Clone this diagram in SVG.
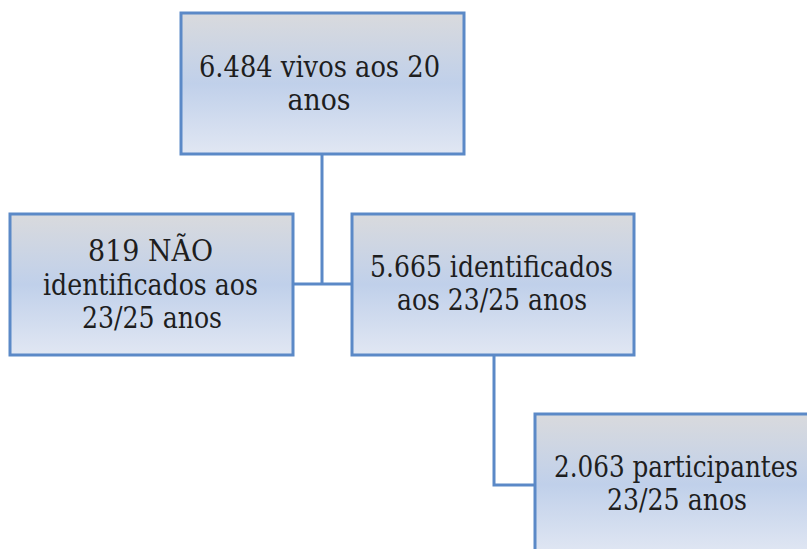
<svg xmlns="http://www.w3.org/2000/svg" width="807" height="549" viewBox="0 0 807 549">
<defs>
<linearGradient id="g" x1="0" y1="0" x2="0" y2="1">
<stop offset="0" stop-color="#d9dadd"/>
<stop offset="0.5" stop-color="#c0d0ea"/>
<stop offset="1" stop-color="#e1e7f3"/>
</linearGradient>
</defs>
<style>
.box{fill:url(#g);stroke:#5b89c7;stroke-width:3}
.lbl{font-size:29px;fill:#1e1e1e;text-anchor:middle}
.conn{fill:none;stroke:#5b89c7;stroke-width:3}
</style>
<rect width="807" height="549" fill="#ffffff"/>
<g id="connectors">
<path class="conn" d="M322 154 V284 M293 284 H352"/>
<path class="conn" d="M494 355 V485 H535"/>
</g>
<g id="nodes" font-family="DejaVu Serif">
<g id="n1">
<rect class="box" x="181" y="13" width="283" height="141"/>
<text class="lbl" x="319.5" y="77" textLength="241" lengthAdjust="spacingAndGlyphs">6.484 vivos aos 20</text>
<text class="lbl" x="319" y="110" textLength="63" lengthAdjust="spacingAndGlyphs">anos</text>
</g>
<g id="n2">
<rect class="box" x="10" y="214" width="283" height="141"/>
<text class="lbl" x="150.5" y="261" textLength="125" lengthAdjust="spacingAndGlyphs">819 NÃO</text>
<text class="lbl" x="150.5" y="295" textLength="215" lengthAdjust="spacingAndGlyphs">identificados aos</text>
<text class="lbl" x="152" y="328" textLength="140" lengthAdjust="spacingAndGlyphs">23/25 anos</text>
</g>
<g id="n3">
<rect class="box" x="352" y="214" width="282" height="141"/>
<text class="lbl" x="491.5" y="277" textLength="243" lengthAdjust="spacingAndGlyphs">5.665 identificados</text>
<text class="lbl" x="492" y="310" textLength="190" lengthAdjust="spacingAndGlyphs">aos 23/25 anos</text>
</g>
<g id="n4">
<rect class="box" x="535" y="414" width="283" height="141"/>
<text class="lbl" x="676" y="477" textLength="244" lengthAdjust="spacingAndGlyphs">2.063 participantes</text>
<text class="lbl" x="677" y="510" textLength="140" lengthAdjust="spacingAndGlyphs">23/25 anos</text>
</g>
</g>
</svg>
